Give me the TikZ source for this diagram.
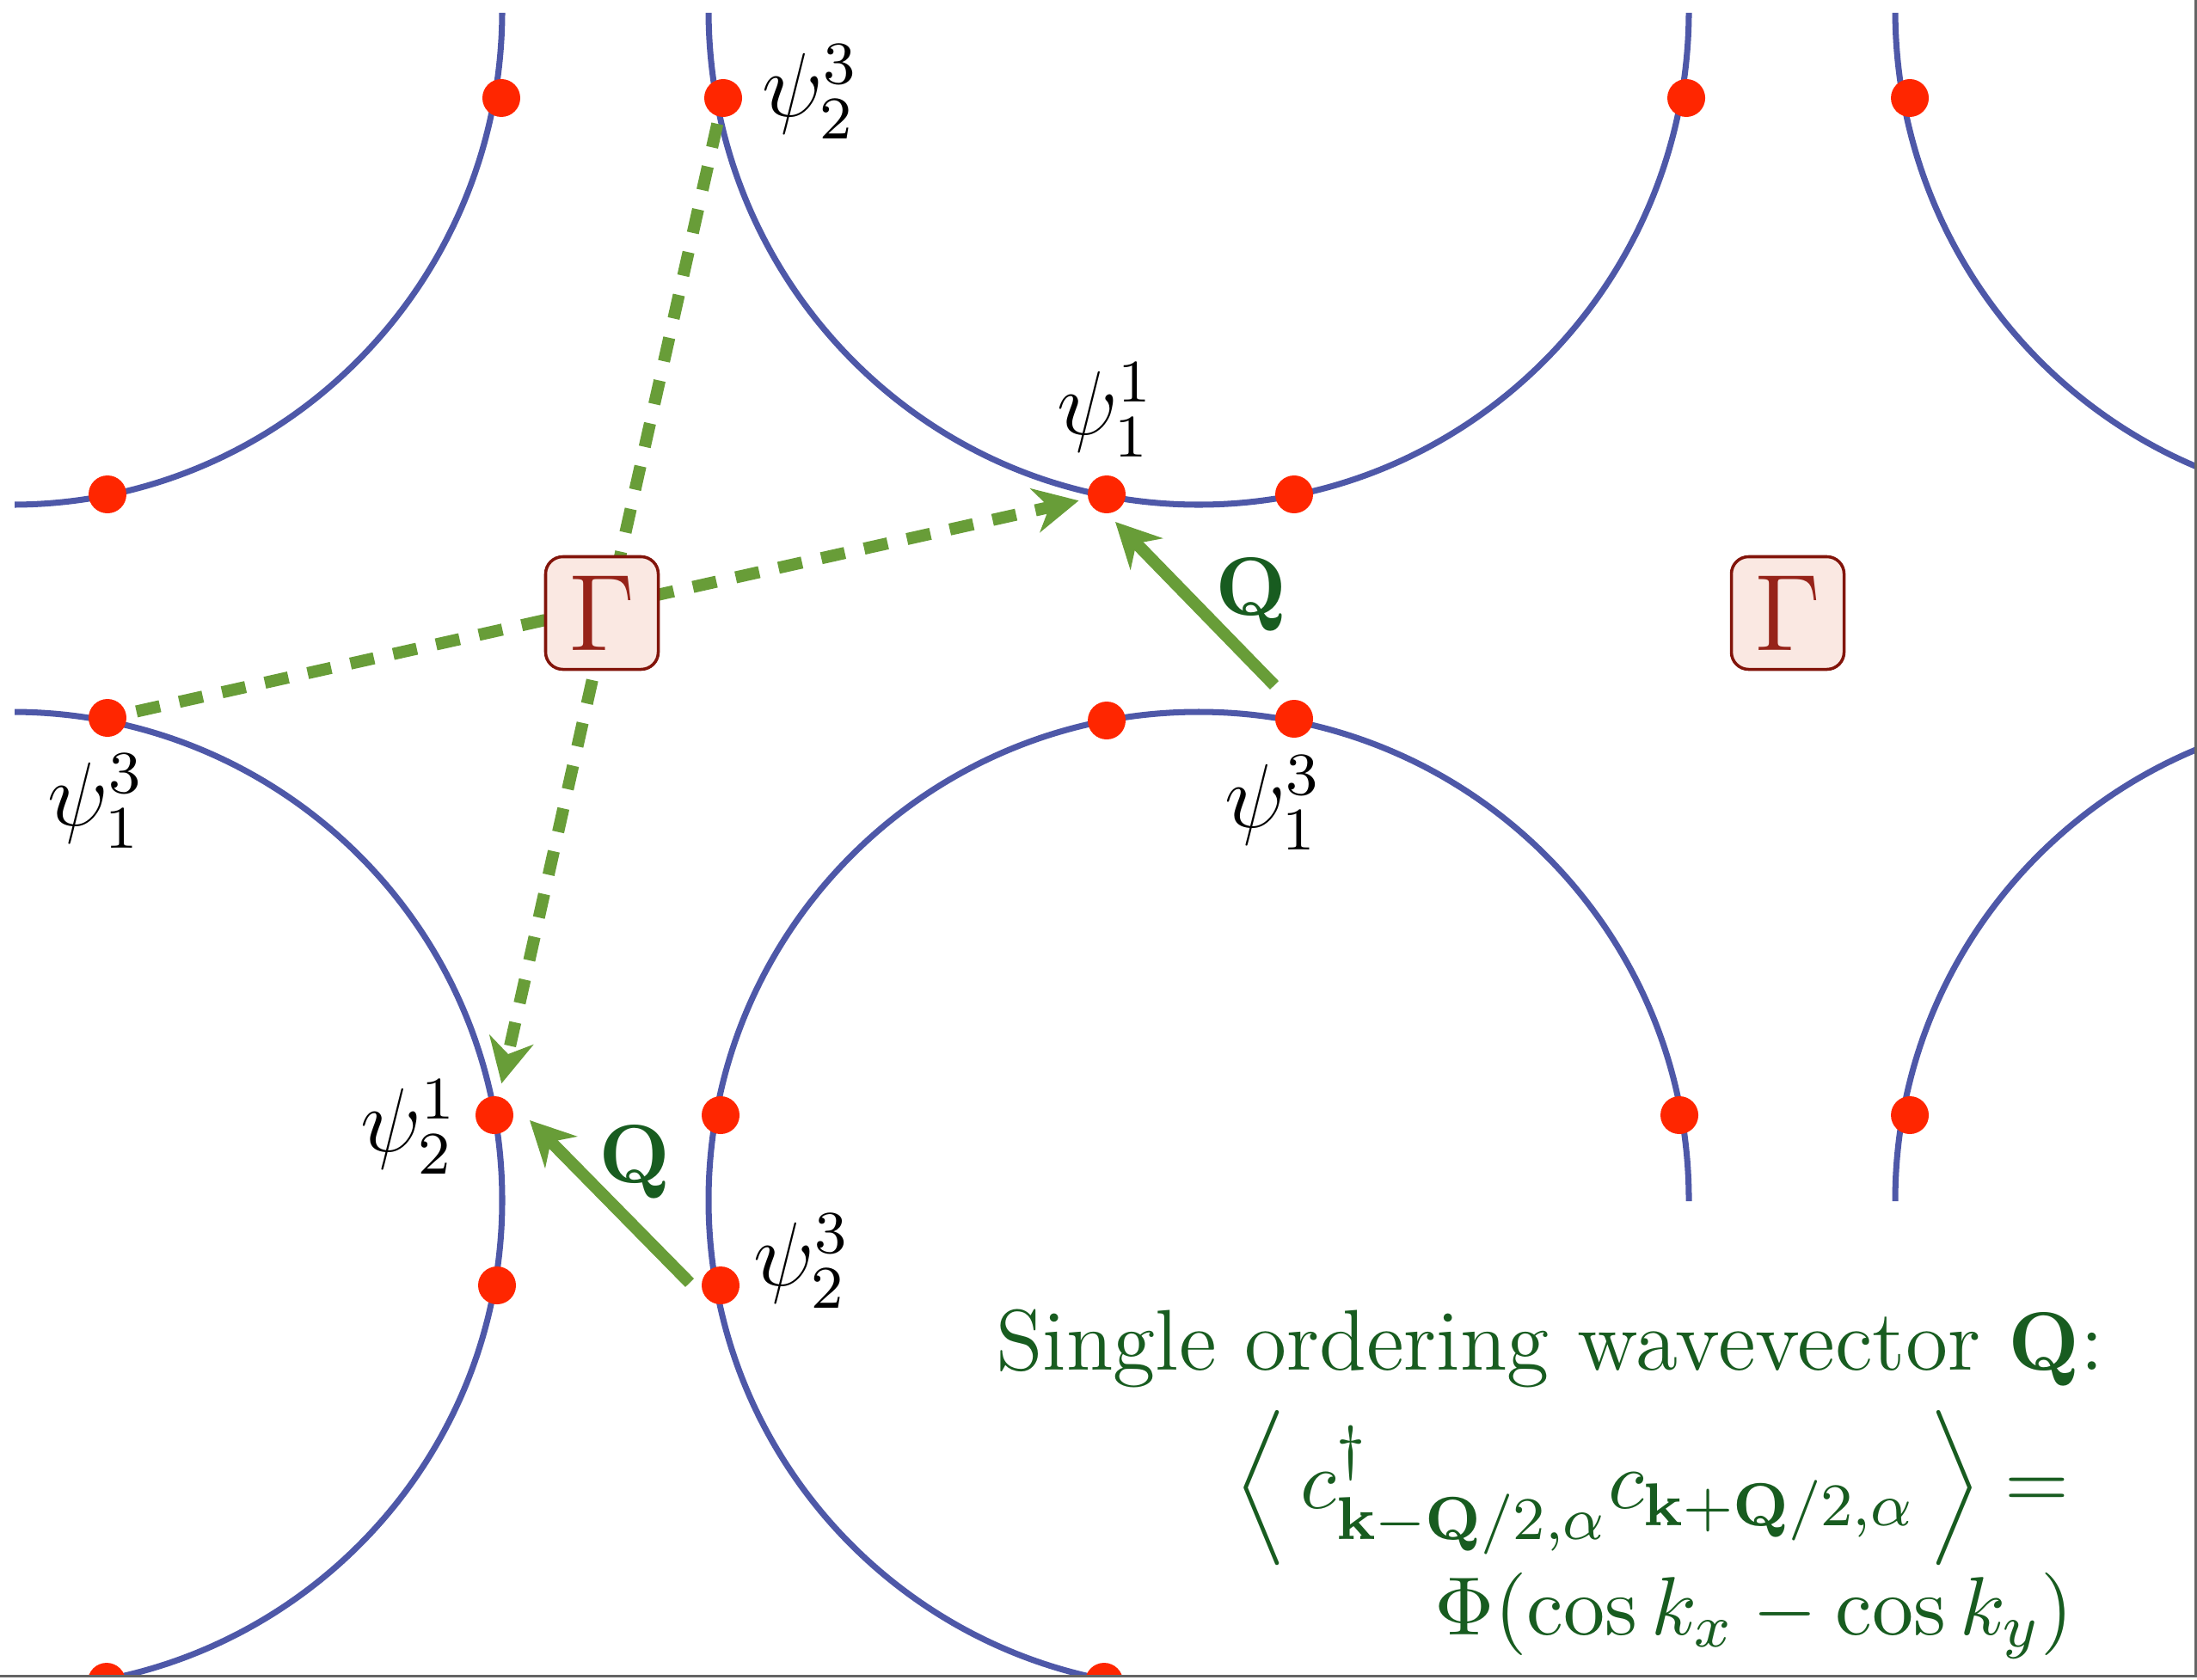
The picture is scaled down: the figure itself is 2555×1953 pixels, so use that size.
\documentclass[tikz,border=0pt]{standalone}
\usepackage{amsmath,amssymb}
\usetikzlibrary{arrows.meta}
\definecolor{fsblue}{RGB}{78,88,168}
\definecolor{dotred}{RGB}{255,38,0}
\definecolor{qgreen}{RGB}{104,157,56}
\definecolor{qtext}{RGB}{24,92,32}
\definecolor{gamfill}{RGB}{250,232,226}
\definecolor{gamline}{RGB}{130,20,10}
\definecolor{gamtext}{RGB}{150,35,25}
\definecolor{framegray}{RGB}{100,100,100}

\begin{document}
\begin{tikzpicture}[
  x=0.04mm, y=-0.04mm,
  fs/.style={draw=fsblue, line width=0.8pt},
  kpt/.style={circle, fill=dotred, inner sep=0pt, minimum size=1.76mm},
  gam/.style={draw=gamline, fill=gamfill, text=gamtext, line width=0.4pt,
              rounded corners=0.8mm, minimum size=5.24mm, inner sep=0pt,
              font=\fontsize{14}{16}\selectfont},
  psi/.style={inner sep=0pt, font=\fontsize{12}{14}\selectfont},
  qv/.style={-{Stealth[length=5.9pt, width=5.9pt]}, line width=1.6pt, draw=qgreen},
  nest/.style={qv, dash pattern=on 1.12mm off 0.92mm},
  ql/.style={inner sep=0pt, text=qtext, font=\fontsize{11}{13.6}\selectfont},
  otext/.style={ql, align=right, font=\fontsize{11.4}{14}\selectfont}]

\useasboundingbox (0,0) rectangle (2555,1953);

% ---------------- Fermi pockets round the M points, cut to the frame -----
\begin{scope}
  \clip (17,15) rectangle (2553,1397) (17,1390) rectangle (1330,1949);
  \foreach \cx in {14,1394,2774} {
    \draw[fs] (\cx,12) ellipse [x radius=570, y radius=575];
    \draw[fs] (\cx,1396) ellipse [x radius=570, y radius=568];
  }
  % hot spots
  \foreach \n/\x/\y in {a1/583/114, a2/841/114, a3/1961/114, a4/2221/114,
                        b1/125/575, b2/1287/575, b3/1505/575,
                        c1/125/835, c2/1287/838, c3/1505/836,
                        d1/575/1297, d2/838/1297, d3/1953/1297, d4/2221/1297,
                        e1/578/1495, e2/838/1495,
                        f1/124/1956, f2/1284/1956} {
    \node[kpt] (\n) at (\x,\y) {};
  }
\end{scope}
\draw[framegray, line width=0.35pt] (2553,0) -- (2553,1949) -- (0,1949);

% ---------------- nesting vectors through Gamma ---------------------------
\draw[nest, shorten <=0.28mm, shorten >=0.56mm] (a2) -- (d1);
\draw[nest, shorten <=0.43mm, shorten >=0.38mm] (c1) -- (b2);

\node[gam] (g1) at (700,713) {$\Gamma$};
\node[gam] (g2) at (2079,713) {$\Gamma$};

% ---------------- the ordering wavevector Q -------------------------------
\coordinate (qs1) at (1482,797);
\coordinate (qe1) at (1297,607);
\coordinate (qs2) at (802,1492);
\coordinate (qe2) at (616,1303);
\draw[qv] (qs1) -- (qe1);
\draw[qv] (qs2) -- (qe2);
\node[ql] (qa) at (1455,692) {$\mathbf{Q}$};
\node[ql] (qb) at (738,1352) {$\mathbf{Q}$};

% ---------------- hot spot labels -----------------------------------------
\node[psi] (l23a) at (943,107)  {$\psi_2^3$};
\node[psi] (l11a) at (1286,477) {$\psi_1^1$};
\node[psi] (l13a) at (112,932)  {$\psi_1^3$};
\node[psi] (l13b) at (1481,934) {$\psi_1^3$};
\node[psi] (l21a) at (476,1311) {$\psi_2^1$};
\node[psi] (l23b) at (933,1467) {$\psi_2^3$};

% ---------------- the order parameter -------------------------------------
\node[otext, anchor=north east] (ord) at (2448,1521)
  {Single ordering wavevector $\mathbf{Q}$:\\[2pt]
   $\Big\langle\, c^{\dagger}_{\mathbf{k}-\mathbf{Q}/2,\alpha}
    c_{\mathbf{k}+\mathbf{Q}/2,\alpha}\,\Big\rangle =$\hspace*{4.5pt}\mbox{}\\
   $\Phi(\cos k_x-\cos k_y)$\hspace*{4pt}\mbox{}};
\end{tikzpicture}
\end{document}
